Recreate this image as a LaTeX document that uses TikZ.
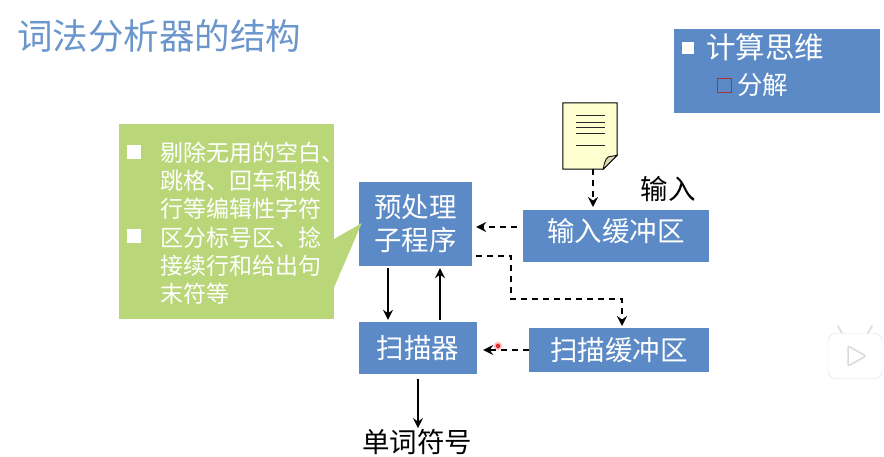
\documentclass[tikz,border=0pt]{standalone}
\usepackage{fontspec}
\setmainfont{Noto Sans CJK SC}
\usetikzlibrary{arrows.meta}
\definecolor{boxblue}{HTML}{5B8AC6}
\definecolor{notegreen}{HTML}{B9D778}
\definecolor{docyellow}{HTML}{FFFFCF}
\tikzset{
    >={Stealth[length=10pt,width=10pt,inset=3.5pt]},
    blue-box/.style = {fill=boxblue, text=white, inner sep=0pt, align=center, font=\fontsize{27.5}{33}\selectfont},
    note-box/.style = {fill=notegreen, inner sep=0pt, minimum width=215pt, minimum height=195pt},
    note-text/.style = {text=white, inner sep=0pt, anchor=north west, align=left, font=\fontsize{23}{28}\selectfont},
    white-bullet/.style = {fill=white, inner sep=0pt, minimum size=14pt},
    plain-label/.style = {inner sep=0pt, font=\fontsize{27.5}{33}\selectfont},
    solid-arrow/.style = {->, line width=1.8pt},
    dashed-arrow/.style = {->, line width=1.8pt, dash pattern=on 6pt off 5pt},
}
\begin{document}
\begin{tikzpicture}[x=1pt,y=-1pt]
\useasboundingbox (0,0) rectangle (884,456);
\node [inner sep=0pt, anchor=west, text=boxblue!90!white, font=\fontsize{35.5}{40}\selectfont] (title) at (17,36) {词法分析器的结构};

% top right box
\node [blue-box, minimum width=206pt, minimum height=84pt] (topic) at (777,71) {};
\node [white-bullet, minimum size=12pt, fill=white] (topic-bullet) at (688,48) {};
\node [inner sep=0pt, anchor=west, text=white, font=\fontsize{29.5}{34}\selectfont] (topic-main) at (706,47) {计算思维};
\node [draw=red!60!black!80, line width=1pt, minimum size=14pt, inner sep=0pt] (topic-sub-bullet) at (724.5,85.5) {};
\node [inner sep=0pt, anchor=west, text=white, font=\fontsize{25.5}{30}\selectfont] (topic-sub) at (737,85) {分解};

% boxes
\node [blue-box, minimum width=113pt, minimum height=84pt] (pre) at (415.5,224) {预处理\\子程序};
\node [blue-box, minimum width=118pt, minimum height=52pt] (scan) at (418,348) {扫描器};
\node [blue-box, minimum width=186pt, minimum height=52pt, text depth=12pt] (inbuf) at (616,236) {输入缓冲区};
\node [blue-box, minimum width=180pt, minimum height=44pt] (scanbuf) at (619,350) {扫描缓冲区};
\node [plain-label] (inlabel) at (668,189) {输入};
\node [plain-label] (word) at (417,442) {单词符号};

% green note
\node [note-box] (note) at (226.5,221.5) {};
\fill [notegreen] ([yshift=-17.5pt]note.east) -- ([xshift=3pt,yshift=1pt]pre.west) -- ([yshift=-65.5pt]note.east) -- cycle;
\node [white-bullet] (bullet-a) at (134,152) {};
\node [white-bullet] (bullet-b) at (134,236) {};
\node [note-text] (text-a) at (160,141.5) {剔除无用的空白、\\跳格、回车和换\\行等编辑性字符};
\node [note-text] (text-b) at (160,227) {区分标号区、捻\\接续行和给出句\\末符等};

% document
\node [minimum width=54pt, minimum height=66pt, inner sep=0pt] (doc) at (590,136) {};
\draw [fill=docyellow, line width=1pt] (doc.north west) -- (doc.north east) -- ([yshift=14pt]doc.south east) -- ([xshift=-14pt]doc.south east) -- (doc.south west) -- cycle;
\draw [fill=docyellow!70!gray, line width=0.8pt] ([yshift=14pt]doc.south east) -- ([xshift=-14pt]doc.south east) .. controls (605,160) and (606,156) .. ([xshift=-5pt,yshift=13pt]doc.south east) -- cycle;
\foreach \y in {115,122,127,133,145}
    \draw [line width=1pt, black!85] (576,\y) -- (605,\y);

% connectors
\coordinate (in-end) at (593,210);
\coordinate (turn-a) at (511,256);
\coordinate (turn-b) at (511,299);
\coordinate (turn-c) at (622,299);
\coordinate (buf-end) at (622,328);
\draw [solid-arrow, shorten <=3pt, shorten >=2pt] ([xshift=-27.5pt,yshift=1pt]pre.south) -- ([xshift=-30pt]scan.north);
\draw [solid-arrow, shorten <=2pt, shorten >=3pt] ([xshift=22pt]scan.north) -- ([xshift=24.5pt,yshift=1pt]pre.south);
\draw [solid-arrow, shorten <=5pt, shorten >=1pt] (scan.south) -- (scan.south |- word.north);
\draw [dashed-arrow, shorten >=3pt] ([xshift=3pt]doc.south) -- (in-end);
\draw [dashed-arrow, shorten <=6pt, shorten >=4pt] ([yshift=9pt]inbuf.west) -- ([yshift=-3pt]pre.east);
\draw [dashed-arrow, shorten <=4pt, shorten >=2pt] ([yshift=-32pt]pre.east) -- (turn-a) -- (turn-b) -- (turn-c) -- (buf-end);
\draw [dashed-arrow, shorten >=6pt] (scanbuf.west) -- (scan.east |- scanbuf.west);

% pointer dot and player badge
\fill [red!30] (498,346) circle (4pt);
\fill [red!85!black] (498,346) circle (2pt);
\fill [white] (498,346) circle (0.7pt);
\draw [black!12, line width=2pt, line cap=round, fill=white] (842,333) -- (838,326) (868,333) -- (872,326);
\node [draw=black!12, fill=white, rounded corners=7pt, minimum width=54pt, minimum height=45pt, inner sep=0pt] (badge) at (855,356) {};
\draw [black!15, fill=white, line width=1.5pt, rounded corners=2pt] (848,346) -- (866,356) -- (848,366) -- cycle;
\end{tikzpicture}
\end{document}
